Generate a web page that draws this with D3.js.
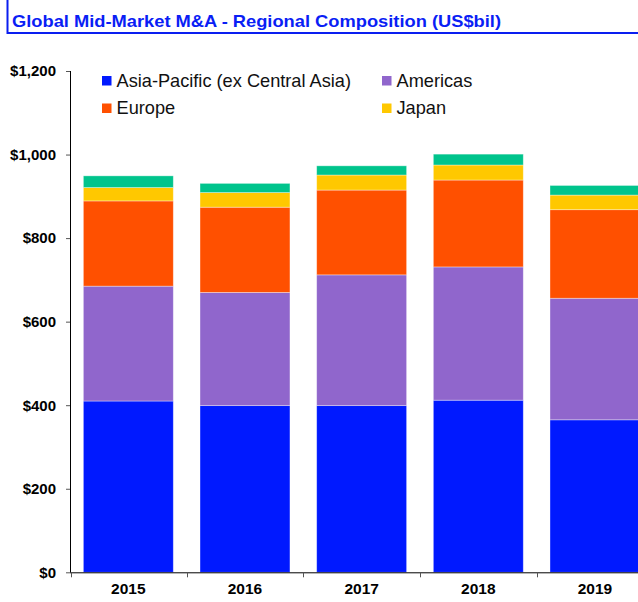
<!DOCTYPE html>
<html lang="en">
<head>
  <meta charset="utf-8">
  <title>Global Mid-Market M&amp;A - Regional Composition</title>
  <style>
  html, body {padding: 0; margin: 0; overflow: hidden; background: #fff}
  svg text {font-family: Arial, "Liberation Sans", sans-serif}
</style>
</head>
<body>
  <svg width="638" height="602"></svg>
  <script src="https://cdn.jsdelivr.net/npm/d3@7"></script>
  <script>

  var years = ["2015", "2016", "2017", "2018", "2019"];
  var seriesNames = ["Asia-Pacific (ex Central Asia)", "Americas", "Europe", "Japan", "Other"];
  var legendNames = ["Asia-Pacific (ex Central Asia)", "Americas", "Europe", "Japan"];
  var asiaPacific = [410, 399, 399, 412, 365];
  var americas = [275, 271, 313, 319, 291];
  var europe = [204, 204, 203, 208, 212];
  var japan = [32, 35, 36, 36, 35];
  var other = [28, 22, 22, 26, 23];
  var yTicks = [0, 200, 400, 600, 800, 1000, 1200];
  var colors = ["#0019ff", "#9066cc", "#ff5000", "#ffc800", "#00c48c"];

  var svg = d3.select("svg");

  // rows for the stack
  var rows = years.map(function(y, i) {
    return {year: y, "Asia-Pacific (ex Central Asia)": asiaPacific[i], "Americas": americas[i],
            "Europe": europe[i], "Japan": japan[i], "Other": other[i]};
  });

  var x = d3.scaleBand()
    .domain(years)
    .range([70, 653.3])
    .paddingInner(0.229)
    .paddingOuter(0.1145);

  var y = d3.scaleLinear()
    .domain([0, 1200])
    .range([572.3, 71]);

  var color = d3.scaleOrdinal().domain(seriesNames).range(colors);

  // header
  svg.append("path")
    .attr("d", "M7.5,0 V33 H638")
    .attr("fill", "none")
    .attr("stroke", "#0a1ef0")
    .attr("stroke-width", 2);

  svg.append("text")
    .attr("x", 12)
    .attr("y", 26.5)
    .attr("fill", "#0a1ef5")
    .attr("font-weight", "bold")
    .attr("font-size", "17px")
    .attr("textLength", 489)
    .attr("lengthAdjust", "spacingAndGlyphs")
    .text("Global Mid-Market M&A - Regional Composition (US$bil)");

  // bars
  var stacked = d3.stack().keys(seriesNames)(rows);

  svg.append("g").selectAll("g")
    .data(stacked)
    .join("g")
      .attr("fill", function(d) { return color(d.key); })
    .selectAll("rect")
    .data(function(d) { return d; })
    .join("rect")
      .attr("x", function(d) { return x(d.data.year); })
      .attr("y", function(d) { return y(d[1]); })
      .attr("width", x.bandwidth())
      .attr("height", function(d) { return y(d[0]) - y(d[1]); })
      .attr("stroke", "rgba(255,255,255,0.45)")
      .attr("stroke-width", 0.8);

  // y axis
  var yAxis = svg.append("g")
    .attr("transform", "translate(70,0)")
    .call(d3.axisLeft(y).tickValues(yTicks).tickSize(4).tickPadding(10)
      .tickFormat(function(d) { return "$" + d3.format(",")(d); }));
  yAxis.select(".domain").attr("d", "M0.5," + y(1200) + "V" + y(0)).attr("stroke", "#000");
  yAxis.selectAll(".tick line").attr("stroke", "#555");
  yAxis.selectAll("text")
    .attr("font-size", "15px")
    .attr("font-weight", "bold")
    .attr("fill", "#000")
    .attr("font-family", "Arial, 'Liberation Sans', sans-serif");

  // x axis (ticks between categories)
  var xg = svg.append("g");
  xg.append("line")
    .attr("x1", 70).attr("x2", 638)
    .attr("y1", y(0) + 0.5).attr("y2", y(0) + 0.5)
    .attr("stroke", "#000");
  var bounds = years.map(function(d) { return x(d) - x.step() * x.paddingInner() / 2; });
  bounds[0] = 70.5;
  xg.selectAll(".sep")
    .data(bounds)
    .join("line")
      .attr("x1", function(d) { return Math.round(d) + 0.5; })
      .attr("x2", function(d) { return Math.round(d) + 0.5; })
      .attr("y1", y(0))
      .attr("y2", y(0) + 5)
      .attr("stroke", "#555");
  xg.selectAll(".lbl")
    .data(years)
    .join("text")
      .attr("x", function(d) { return x(d) + x.bandwidth() / 2; })
      .attr("y", 594)
      .attr("text-anchor", "middle")
      .attr("font-size", "15.5px")
      .attr("font-weight", "bold")
      .text(function(d) { return d; });

  // legend
  var legend = svg.append("g").selectAll("g")
    .data(legendNames)
    .join("g")
      .attr("transform", function(d, i) {
        return "translate(" + (i % 2 ? 382 : 102) + "," + (i < 2 ? 76 : 103.5) + ")";
      });
  legend.append("rect")
    .attr("width", 9.5)
    .attr("height", 9.5)
    .attr("fill", function(d) { return color(d); });
  legend.append("text")
    .attr("x", 14.5)
    .attr("y", 10.5)
    .attr("font-size", "18.2px")
    .attr("fill", "#111")
    .text(function(d) { return d; });

  </script>
</body>
</html>
